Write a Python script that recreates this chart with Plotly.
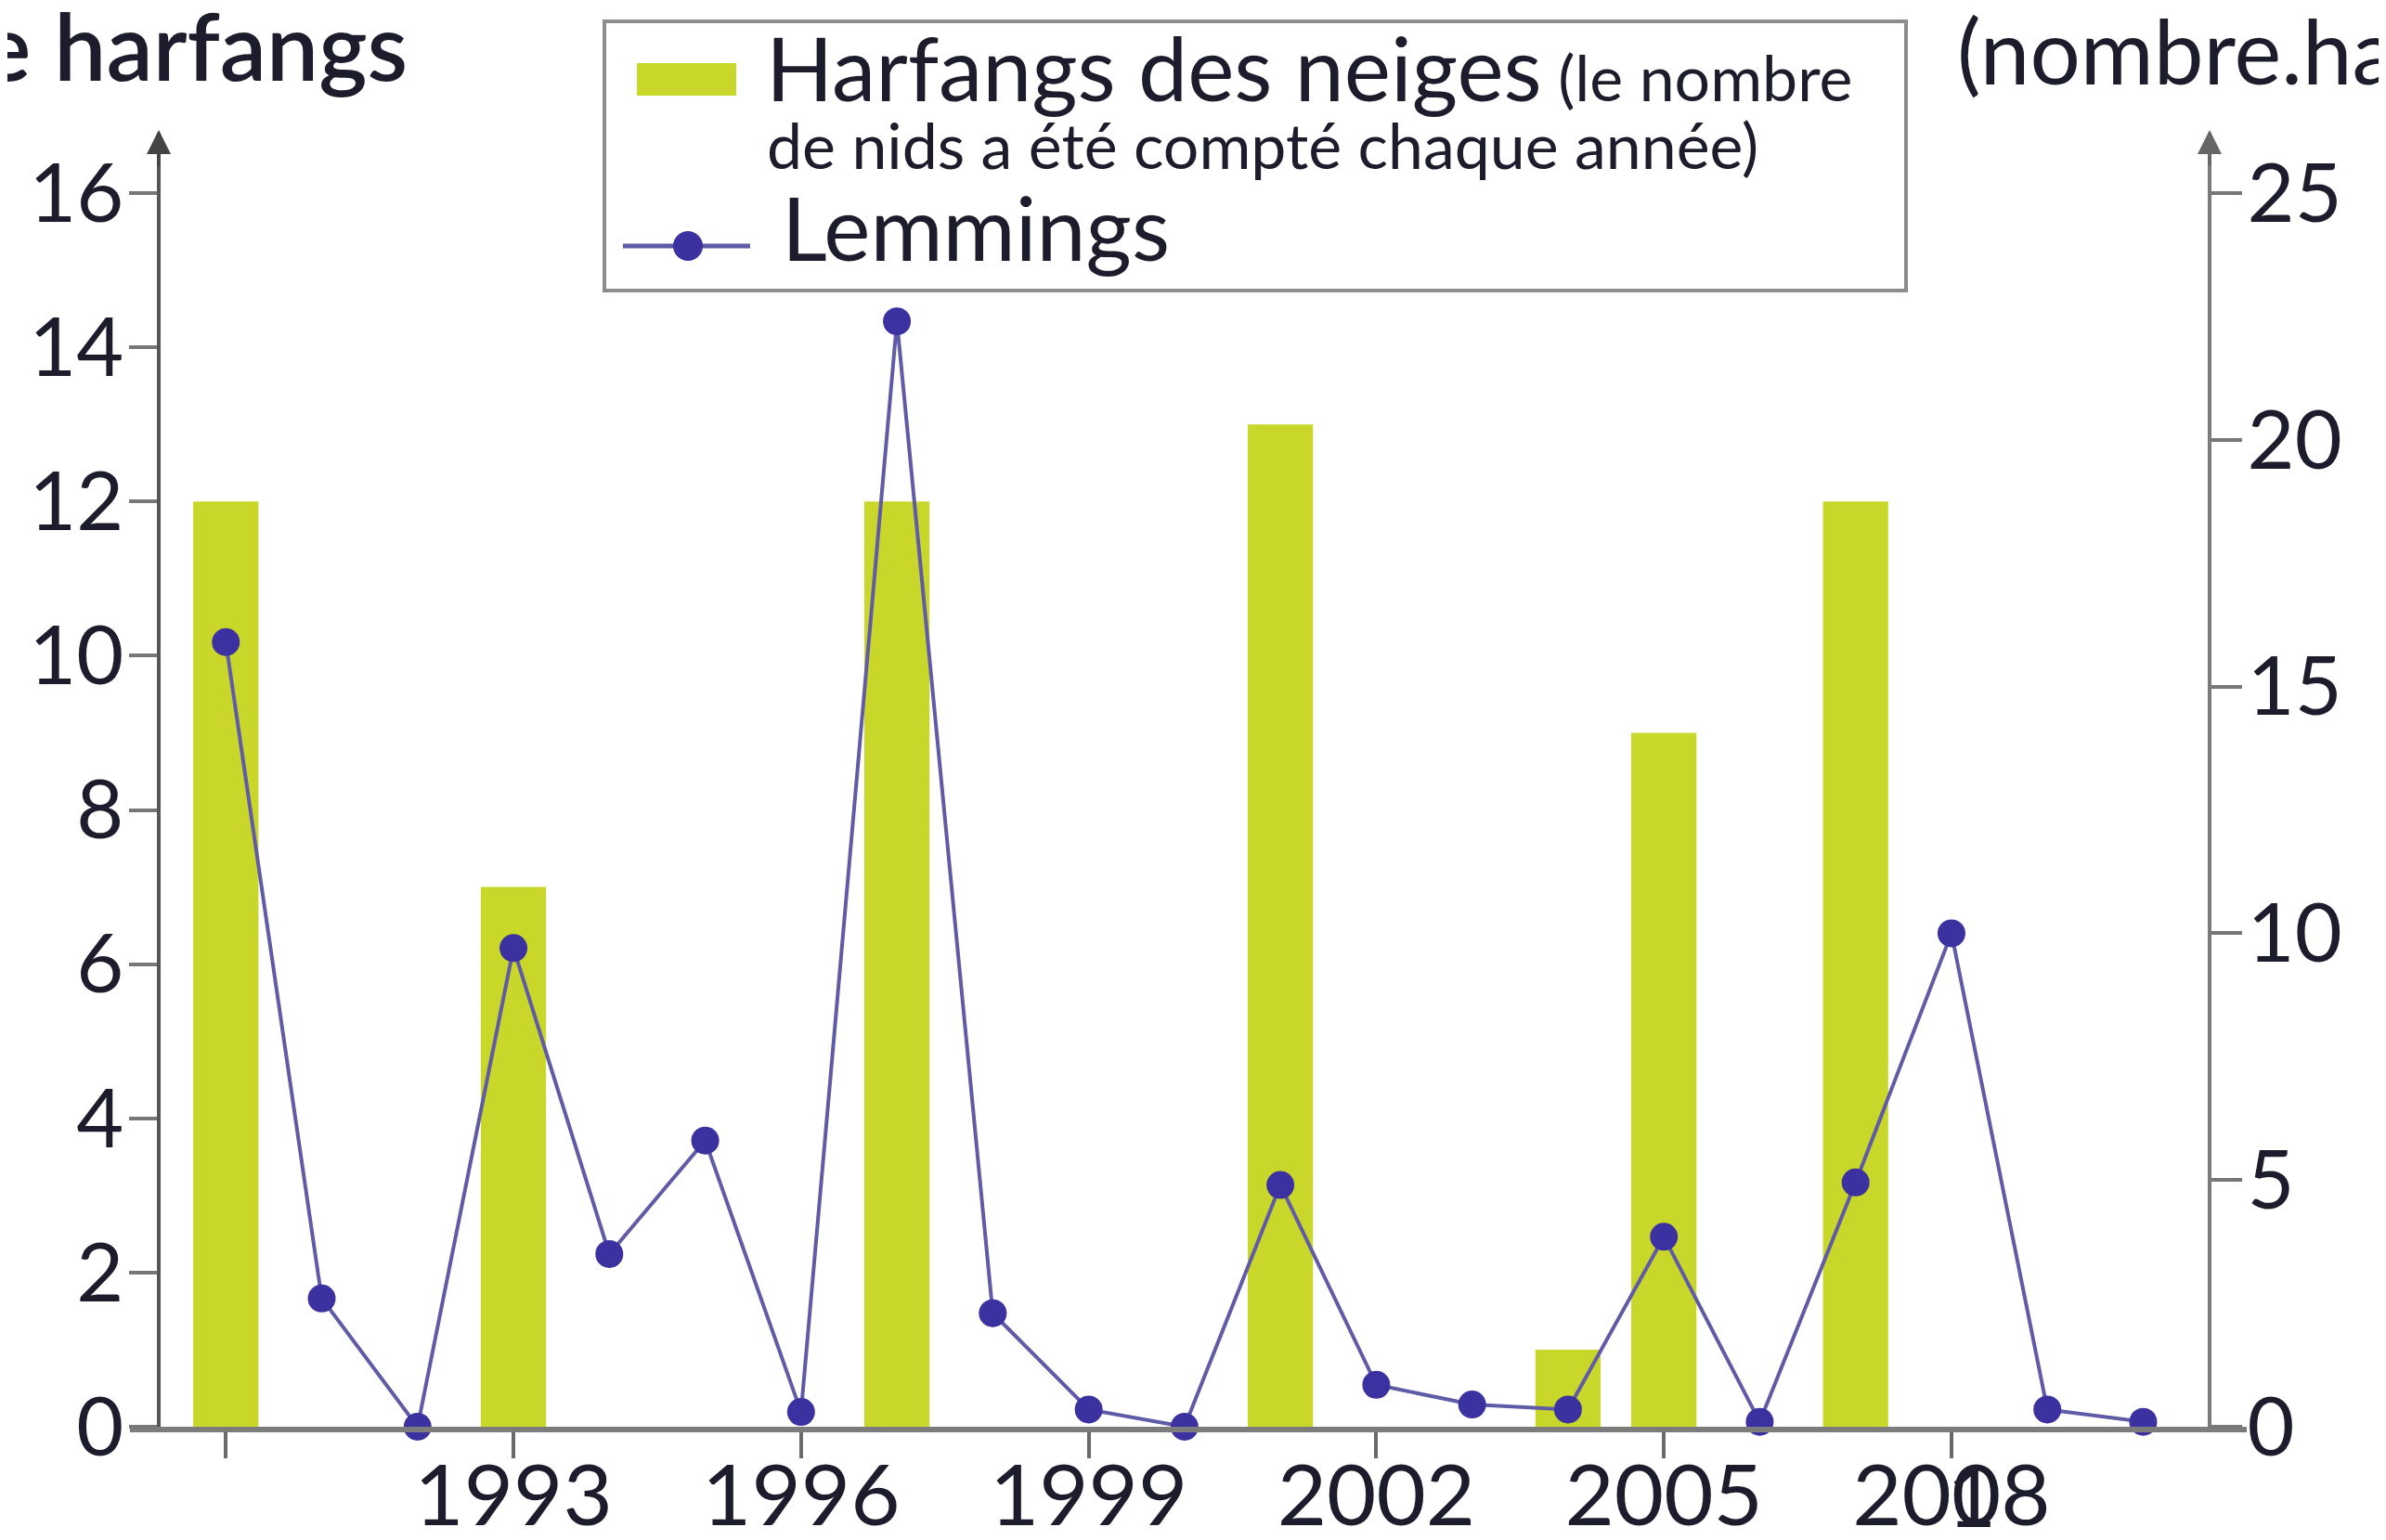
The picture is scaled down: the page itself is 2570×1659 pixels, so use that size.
import plotly.graph_objects as go

# ---------------- data ----------------
years = list(range(1990, 2011))
lemmings = [15.9, 2.6, 0.0, 9.7, 3.5, 5.8, 0.3, 22.4, 2.3, 0.35, 0.0,
            4.9, 0.85, 0.45, 0.35, 3.85, 0.1, 4.95, 10.0, 0.35, 0.1]
owl_years = [1990, 1993, 1997, 2001, 2004, 2005, 2007]
owl_nests = [12, 7, 12, 13, 1, 9, 12]

x_tick_vals = [1990, 1993, 1996, 1999, 2002, 2005, 2008]
x_tick_text = ["", "1993", "1996", "1999", "2002", "2005", "2008"]
y_left_ticks = [0, 2, 4, 6, 8, 10, 12, 14, 16]
y_right_ticks = [0, 5, 10, 15, 20, 25]

# ---------------- geometry helpers ----------------
W, H = 2570, 1659
L, R, T, B = 132, 158, 135, 130
PW = W - L - R
PH = H - T - B


def px(x):
    return (x - L) / PW


def py(y):
    return (H - B - y) / PH


FONT = "Lato"
TXT = "#1c1c2c"
GREEN = "#c8d72a"
LINEC = "#605ba6"
MARKC = "#3b31a0"

fig = go.Figure()
fig.add_trace(go.Bar(
    x=owl_years, y=owl_nests, width=0.68,
    marker=dict(color=GREEN, line_width=0),
    yaxis="y", name="Harfangs des neiges",
))
fig.add_trace(go.Scatter(
    x=years, y=lemmings, mode="lines+markers",
    line=dict(color=LINEC, width=4),
    marker=dict(color=MARKC, size=30),
    yaxis="y2", name="Lemmings", cliponaxis=False,
))

xfont = dict(family=FONT, size=92, color=TXT)
yfont = dict(family=FONT, size=88, color=TXT)

fig.update_layout(
    width=W, height=H,
    margin=dict(l=L, r=R, t=T, b=B, autoexpand=False),
    paper_bgcolor="white", plot_bgcolor="white",
    showlegend=False,
    xaxis=dict(
        domain=[0, 1], range=[1989.0, 2011.08],
        showline=True, linecolor="#7c7c7c", linewidth=6,
        ticks="outside", ticklen=28, tickwidth=4, tickcolor="#6a6a6a",
        tickvals=x_tick_vals, ticktext=x_tick_text, tickfont=xfont,
        ticklabelstandoff=-38,
        showgrid=False, zeroline=False, anchor="y",
    ),
    yaxis=dict(
        range=[0, (H - B - T) / 83.06], anchor="free", position=px(163),
        showline=True, linecolor="#555555", linewidth=4,
        ticks="outside", ticklen=30, tickwidth=4, tickcolor="#777777",
        tickvals=y_left_ticks, tickfont=yfont, ticklabelstandoff=-12,
        showgrid=False, zeroline=False,
    ),
    yaxis2=dict(
        range=[0, (H - B - T) / 53.16], anchor="free", position=px(2372),
        overlaying="y", side="right",
        showline=True, linecolor="#7a7a7a", linewidth=4,
        ticks="outside", ticklen=33, tickwidth=4, tickcolor="#777777",
        tickvals=y_right_ticks, tickfont=yfont, ticklabelstandoff=-12,
        showgrid=False, zeroline=False,
    ),
)

shapes = []
# legend box
shapes.append(dict(type="rect", xref="paper", yref="paper",
                   x0=px(643), x1=px(2045), y0=py(305), y1=py(15),
                   line=dict(color="#8c8c8c", width=4), fillcolor="white",
                   layer="above"))
# bar swatch
shapes.append(dict(type="rect", xref="paper", yref="paper",
                   x0=px(678), x1=px(785), y0=py(95), y1=py(60),
                   line=dict(width=0), fillcolor=GREEN, layer="above"))
# line swatch
shapes.append(dict(type="line", xref="paper", yref="paper",
                   x0=px(663), x1=px(800), y0=py(257), y1=py(257),
                   line=dict(color=LINEC, width=5), layer="above"))
shapes.append(dict(type="circle", xref="paper", yref="paper",
                   x0=px(733 - 16), x1=px(733 + 16), y0=py(257 + 16), y1=py(257 - 16),
                   line=dict(width=0), fillcolor=MARKC, layer="above"))
fig.update_layout(shapes=shapes)

ann = []
# axis arrows
for xa, col in [(163, "#444444"), (2372, "#666666")]:
    ann.append(dict(x=px(xa), y=py(132), xref="paper", yref="paper",
                    ax=0, ay=40, showarrow=True, arrowhead=2, arrowsize=1.3,
                    arrowwidth=4, arrowcolor=col, text=""))
# axis titles (cut off by the page edges)
ann.append(dict(x=px(433), y=py(40), xref="paper", yref="paper",
                xanchor="right", yanchor="middle", showarrow=False,
                text="Nombre de harfangs",
                font=dict(family=FONT, size=100, color=TXT, weight=600)))
ann.append(dict(x=px(2098), y=py(40), xref="paper", yref="paper",
                xanchor="left", yanchor="middle", showarrow=False,
                text="(nombre.ha<sup>-1</sup>)",
                font=dict(family=FONT, size=96, color=TXT)))
# legend texts
ann.append(dict(x=px(815), y=py(64), xref="paper", yref="paper",
                xanchor="left", yanchor="middle", showarrow=False,
                text="Harfangs des neiges<span style='font-size:68px'> (le nombre</span>",
                font=dict(family=FONT, size=95, color=TXT)))
ann.append(dict(x=px(816), y=py(147), xref="paper", yref="paper",
                xanchor="left", yanchor="middle", showarrow=False,
                text="de nids a été compté chaque année)",
                font=dict(family=FONT, size=68, color=TXT)))
ann.append(dict(x=px(832), y=py(236), xref="paper", yref="paper",
                xanchor="left", yanchor="middle", showarrow=False,
                text="Lemmings",
                font=dict(family=FONT, size=95, color=TXT)))
# overprinted digit seen on the 2008 label
ann.append(dict(x=2008, xref="x", y=py(1602), yref="paper", xshift=22,
                xanchor="center", yanchor="middle", showarrow=False,
                text="1", font=dict(family=FONT, size=92, color=TXT)))
fig.update_layout(annotations=ann)

fig.write_html("out.html")
